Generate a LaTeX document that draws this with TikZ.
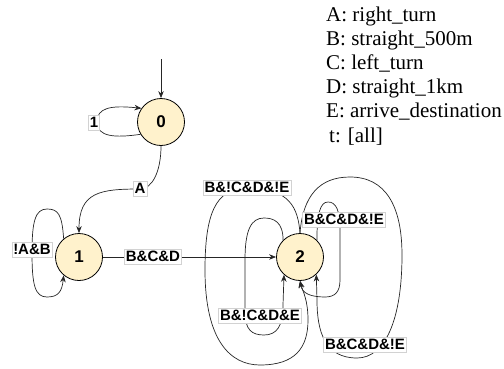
\documentclass[tikz,border=0pt]{standalone}
\usepackage{fontspec}
\setmainfont{Liberation Serif}
\setsansfont{Liberation Sans}
\usetikzlibrary{arrows.meta}
\pgfdeclarelayer{bg}
\pgfsetlayers{bg,main}
\definecolor{stfill}{HTML}{FFF2CC}
\tikzset{
 state/.style={circle, draw=black, line width=0.8pt, fill=stfill, minimum size=47pt, inner sep=0pt, font=\sffamily\bfseries\fontsize{17}{17}\selectfont},
 lbl/.style={fill=white, draw=gray!35, line width=0.4pt, inner xsep=1.5pt, inner ysep=1pt, text height=11pt, text depth=2pt, font=\sffamily\bfseries\fontsize{15}{15}\selectfont},
 edge/.style={draw=black!85, line width=0.7pt, -{Stealth[length=7pt,width=5.5pt]}},
 legend/.style={anchor=base west, inner sep=0pt, font=\fontsize{21}{24}\selectfont},
}
\begin{document}
\begin{tikzpicture}[x=1pt,y=-1pt]
\useasboundingbox (0,0) rectangle (504,368);
% states
\node[state] (n0) at (161,122) {0};
\node[state] (n1) at (79,257) {1};
\node[state] (n2) at (300,257) {2};
\coordinate (init) at (161,59);
% labels
\node[lbl] (l1) at (94,123) {1};
\node[lbl] (lA) at (140,189) {A};
\node[lbl] (lAB) at (32,250) {!A\&B};
\node[lbl] (lBCD) at (153,257) {B\&C\&D};
\node[lbl] (lL1) at (247,188) {B\&!C\&D\&!E};
\node[lbl] (lL2) at (260,316) {B\&!C\&D\&E};
\node[lbl] (lR1) at (344,220) {B\&C\&D\&!E};
\node[lbl] (lR2) at (365,345) {B\&C\&D\&!E};
% legend
\node[legend] (g1) at (326,21) {A: right\_turn};
\node[legend] (g2) at (326,45.2) {B: straight\_500m};
\node[legend] (g3) at (326,69.4) {C: left\_turn};
\node[legend] (g4) at (326,93.6) {D: straight\_1km};
\node[legend] (g5) at (326,117.8) {E: arrive\_destination};
\node[legend] (g6) at (329,142) {t: [all]};
\begin{pgfonlayer}{bg}
\draw[edge] (init) -- (n0.north);
\draw[edge] (n0.211) .. controls (115,138) and (97,137) .. (97,122) .. controls (97,108) and (110,105) .. (n0.145);
\draw[edge] (n0.south) .. controls (161,172) and (152,189) .. (lA.center) .. controls (100,189) and (79,192) .. (n1.north);
\draw[edge] (n1.130) .. controls (62,214) and (58,209) .. (47,209) .. controls (35,209) and (32,222) .. (32,253) .. controls (32,285) and (35,297) .. (47,297) .. controls (58,297) and (62,292) .. (n1.230);
\draw[edge] (n1) -- (n2);
\draw[edge] (n2.north) .. controls (298,208) and (290,188) .. (lL1.center) .. controls (215,188) and (205,215) .. (205,270) .. controls (205,340) and (230,365) .. (260,365) .. controls (295,365) and (308,348) .. (308,320) .. controls (308,300) and (303,292) .. (n2.south);
\draw[edge] (n2.135) .. controls (283,222) and (274,218) .. (264,218) .. controls (251,218) and (245,230) .. (245,260) -- (245,312) .. controls (245,330) and (252,335) .. (264,335) .. controls (277,335) and (283,326) .. (283,305) -- (n2.228);
\draw[edge] (n2.45) .. controls (317,214) and (320,202) .. (328,202) .. controls (336,202) and (340,210) .. (340,230) -- (340,280) .. controls (340,292) and (335,297) .. (325,297) .. controls (310,297) and (302,293) .. (n2.south);
\draw[edge] (n2.north) .. controls (303,195) and (320,177) .. (350,177) .. controls (385,177) and (402,205) .. (402,255) .. controls (402,320) and (385,358) .. (357,358) .. controls (325,358) and (317,332) .. (317,300) -- (n2.313);
\end{pgfonlayer}
\end{tikzpicture}
\end{document}
